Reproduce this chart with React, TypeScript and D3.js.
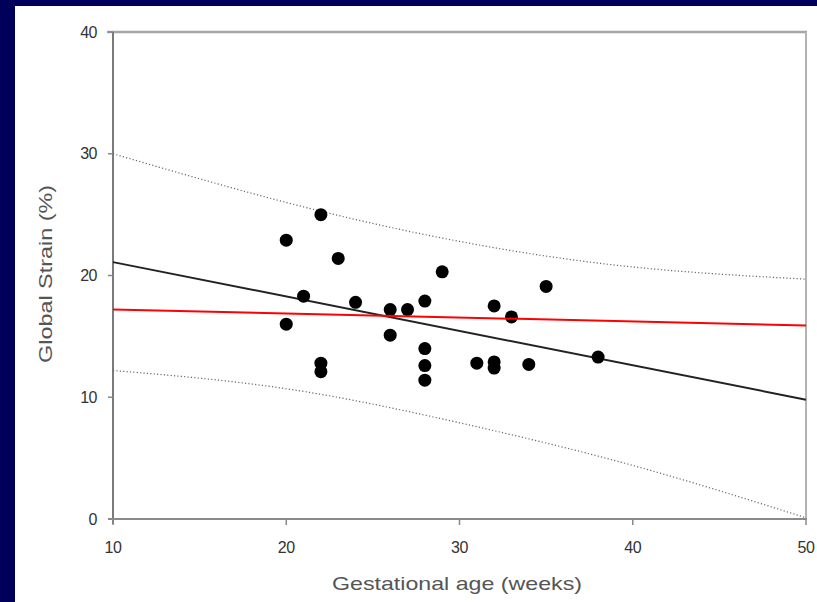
import React from "react";
import * as d3 from "d3";

const gestAge = [20, 20, 21, 22, 22, 22, 23, 24, 26, 26, 27, 28, 28, 28, 28, 29, 31, 32, 32, 32, 33, 34, 35, 38];
const strain = [22.9, 16.0, 18.3, 25.0, 12.8, 12.1, 21.4, 17.8, 17.2, 15.1, 17.2, 17.9, 14.0, 12.6, 11.4, 20.3, 12.8, 17.5, 12.9, 12.4, 16.6, 12.7, 19.1, 13.3];

// regression line and prediction band
const fitX = [10, 50];
const fitY = [21.1, 9.8];
const refY = [17.2, 15.9];
const bandX = [10, 20, 30, 40, 50];
const bandUpper = [30.0, 26.0, 22.8, 20.7, 19.7];
const bandLower = [12.2, 10.7, 7.9, 4.4, 0.1];

const xTicks = [10, 20, 30, 40, 50];
const yTicks = [0, 10, 20, 30, 40];

const W = 817;
const H = 602;
const margin = { left: 113, right: 11, top: 32, bottom: 83 };
const font = "'Liberation Sans', Arial, sans-serif";

const App = () => {
    const x = d3.scaleLinear().domain([10, 50]).range([margin.left, W - margin.right]);
    const y = d3.scaleLinear().domain([0, 40]).range([H - margin.bottom, margin.top]);

    const line = d3
        .line<[number, number]>()
        .x((d) => x(d[0]))
        .y((d) => y(d[1]));
    const band = d3
        .line<[number, number]>()
        .x((d) => x(d[0]))
        .y((d) => y(d[1]))
        .curve(d3.curveNatural);

    const x0 = x(10), x1 = x(50), y0 = y(0), y1 = y(40);

    return (
        <div style={{ position: "fixed", left: 0, top: 0 }}>
            <svg width={W} height={H} style={{ display: "block" }}>
                <rect x={0} y={0} width={W} height={H} fill="#00005a" />
                <rect x={15} y={6} width={W - 15} height={H - 6} fill="#ffffff" />

                {/* frame */}
                <line x1={x0 - 6} x2={x1 + 1} y1={y1} y2={y1} stroke="#a6a6a6" strokeWidth={2.5} />
                <line x1={x1} x2={x1} y1={y1} y2={y0} stroke="#b4b4b4" strokeWidth={2} />
                <line x1={x0} x2={x0} y1={y1} y2={y0 + 5} stroke="#7a7a7a" strokeWidth={2} />
                <line x1={x0 - 5} x2={x1 + 1} y1={y0} y2={y0} stroke="#8a8a8a" strokeWidth={2} />

                {/* y ticks */}
                {yTicks.map((t) => (
                    <g key={`y${t}`}>
                        <line x1={x0 - 5} x2={x0} y1={y(t)} y2={y(t)} stroke="#888" strokeWidth={1.5} />
                        <text x={x0 - 16} y={y(t)} dy="0.35em" textAnchor="end" fontFamily={font} fontSize={16} fill="#333" letterSpacing={-0.5}>
                            {t}
                        </text>
                    </g>
                ))}
                {/* x ticks */}
                {xTicks.map((t) => (
                    <g key={`x${t}`}>
                        <line x1={x(t)} x2={x(t)} y1={y0} y2={y0 + 6} stroke="#888" strokeWidth={1.5} />
                        <text x={x(t)} y={y0 + 28} dy="0.35em" textAnchor="middle" fontFamily={font} fontSize={16} fill="#333" letterSpacing={-0.5}>
                            {t}
                        </text>
                    </g>
                ))}

                {/* axis titles */}
                <text
                    x={457}
                    y={583}
                    dy="0.35em"
                    textAnchor="middle"
                    fontFamily={font}
                    fontSize={19}
                    fill="#555"
                    textLength={250}
                    lengthAdjust="spacingAndGlyphs"
                >
                    Gestational age (weeks)
                </text>
                <text
                    transform={`translate(46, 274) rotate(-90)`}
                    dy="0.35em"
                    textAnchor="middle"
                    fontFamily={font}
                    fontSize={18}
                    fill="#555"
                    textLength={178}
                    lengthAdjust="spacingAndGlyphs"
                >
                    Global Strain (%)
                </text>

                {/* prediction band */}
                <path d={band(bandX.map((v, i) => [v, bandUpper[i]]) as any) || ""} fill="none" stroke="#666" strokeWidth={1.2} strokeDasharray="1.2,2.2" />
                <path d={band(bandX.map((v, i) => [v, bandLower[i]]) as any) || ""} fill="none" stroke="#666" strokeWidth={1.2} strokeDasharray="1.2,2.2" />

                {/* regression line */}
                <path d={line(fitX.map((v, i) => [v, fitY[i]]) as any) || ""} fill="none" stroke="#222" strokeWidth={2} />

                {/* points */}
                {gestAge.map((g, i) => (
                    <circle key={i} cx={x(g)} cy={y(strain[i])} r={6.5} fill="#000" />
                ))}

                {/* red reference line */}
                <path d={line(fitX.map((v, i) => [v, refY[i]]) as any) || ""} fill="none" stroke="#ff0000" strokeWidth={2} />
            </svg>
        </div>
    );
};

export default App;
